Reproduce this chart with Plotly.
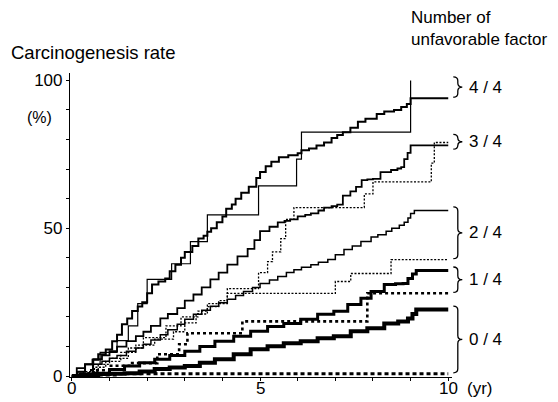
import plotly.graph_objects as go

# ---------------- data (years, carcinogenesis rate %) ----------------
t44_a = [0, 0.15, 0.35, 0.55, 0.7, 0.9, 1.07, 1.2, 1.33, 1.47, 1.6, 1.75, 1.87, 2.0, 2.13, 2.3, 2.48, 2.6,
         2.75, 2.9, 3.0, 3.2, 3.36, 3.5, 3.6, 3.7, 3.85, 4.0, 4.1, 4.25, 4.35, 4.5, 4.7, 4.9, 5.0, 5.15, 5.3,
         5.5, 5.75, 6.0, 6.1, 6.3, 6.5, 6.7, 6.9, 7.05, 7.2, 7.4, 7.6, 7.8, 8.1, 8.3, 8.56, 8.75, 8.9, 9.0, 10.0]
v44_a = [0, 1.5, 4, 5.5, 7.4, 9, 11.8, 14, 17.5, 19.5, 22, 23.5, 25, 28, 31, 32, 33, 35.5,
         37.7, 40, 42, 44, 46.5, 47.5, 48.8, 50, 52, 54, 56.6, 58, 60, 62, 64, 67, 69, 71, 72.5,
         74, 74.7, 75.4, 76.4, 77, 78, 79, 80.5, 81.5, 82.5, 84, 86, 87, 88.6, 89.5, 90, 91, 92, 94, 94]

t44_b = [0, 0.55, 0.75, 1.2, 1.5, 1.75, 2.0, 2.65, 3.15, 3.6, 4.96, 5.97, 6.1, 9.0]
v44_b = [0, 4, 8, 12, 17, 24.5, 32.7, 38, 45.5, 54.5, 64.3, 73.4, 82.5, 100]

t34_a = [0, 0.13, 0.35, 0.57, 0.8, 1.0, 1.2, 1.45, 1.7, 1.9, 2.1, 2.35, 2.55, 2.8, 3.0, 3.23, 3.45, 3.68,
         3.9, 4.13, 4.4, 4.67, 4.85, 5.0, 5.25, 5.47, 5.65, 5.8, 6.0, 6.2, 6.35, 6.55, 6.7, 6.9, 7.05, 7.2,
         7.4, 7.55, 7.7, 7.85, 8.0, 8.2, 8.48, 8.65, 8.75, 8.83, 8.92, 9.0, 10.0]
v34_a = [0, 2.7, 4, 5.7, 7, 8.4, 10, 11.8, 13.5, 15, 17, 19.5, 21, 23, 25.5, 27.6, 30, 32.7,
         35, 37.7, 40.5, 43, 46, 49, 50.5, 52, 52.5, 53, 54, 54.5, 55, 56, 57, 57.5, 58, 61,
         62.5, 64, 66.3, 66.5, 66.7, 69, 69.7, 70.2, 70.7, 73.4, 75.5, 78, 78]

t34_b = [0, 0.3, 0.7, 1.0, 1.5, 1.9, 2.5, 2.9, 3.35, 3.6, 4.13, 4.96, 5.2, 5.33, 5.55, 5.68, 5.9,
         7.77, 8.0, 9.55, 9.63, 10.0]
v34_b = [0, 1.5, 4, 6, 9.5, 13, 17, 20, 22, 24.5, 29.6, 35, 38.7, 42, 46.5, 53, 57,
         61.6, 65.7, 72, 79, 79]

t24_a = [0, 0.2, 0.57, 0.8, 1.0, 1.2, 1.45, 1.7, 1.9, 2.1, 2.35, 2.55, 2.8, 3.0, 3.23, 3.45, 3.68, 3.9,
         4.13, 4.35, 4.56, 4.8, 5.0, 5.25, 5.47, 5.7, 5.9, 6.1, 6.35, 6.55, 6.8, 7.0, 7.23, 7.45, 7.68,
         7.95, 8.13, 8.35, 8.5, 8.7, 8.83, 8.93, 9.0, 9.1, 10.0]
v24_a = [0, 1, 4, 5, 6, 7, 8.4, 9.5, 10.8, 12.2, 14, 15.7, 17.5, 19.2, 20.9, 22.3, 23.6, 24.8,
         26, 27.3, 28.6, 30, 31.3, 32.5, 33.7, 35, 36, 36.8, 37.7, 38.5, 39.4, 41, 42.8, 44, 45.5,
         47, 47.8, 49, 50, 51, 52, 53.5, 55, 56, 56]

t24_b = [0, 0.2, 0.6, 0.9, 1.3, 1.7, 2.2, 2.7, 3.0, 3.3, 3.6, 3.9, 4.13, 7.0, 7.41, 8.48, 10.0]
v24_b = [0, 1, 3, 5, 8, 10.5, 12.5, 15, 18, 21, 23.5, 25.5, 28, 32, 34.7, 39.4, 39.4]

t14_a = [0, 0.3, 0.6, 1.0, 1.4, 1.8, 2.2, 2.6, 3.0, 3.4, 3.8, 4.3, 4.75, 5.2, 5.63, 6.08, 6.53, 6.96,
         7.33, 7.68, 7.95, 8.3, 8.6, 8.8, 8.93, 9.05, 9.15, 10.0]
v14_a = [0, 0.5, 1, 2.2, 3.4, 4.5, 5.7, 7, 8.4, 10, 11.8, 13.5, 15.2, 16.8, 17.8, 19.2, 20.9, 21.9,
         24.2, 26.3, 28.6, 31, 31.2, 31.3, 33, 34.5, 35.7, 35.7]

t14_b = [0, 0.45, 1.0, 1.6, 2.27, 2.85, 3.07, 4.53, 7.85, 10.0]
v14_b = [0, 2, 3.5, 4.4, 7.4, 10.8, 14.5, 18.5, 28, 28]

t04_a = [0, 0.3, 0.7, 1.0, 1.4, 1.8, 2.2, 2.6, 3.0, 3.4, 3.8, 4.3, 4.75, 5.2, 5.63, 6.08, 6.53, 6.96,
         7.41, 7.85, 8.3, 8.67, 8.93, 9.05, 9.15, 10.0]
v04_a = [0, 0.3, 0.7, 0.8, 1.0, 1.6, 2.4, 2.9, 3.4, 4.5, 5.7, 7.4, 9.1, 10.1, 11.1, 11.8, 12.8, 13.5,
         15.2, 16.2, 17.8, 18.5, 19.5, 21, 22.5, 22.5]

t04_b = [0, 0.4, 1.2, 10.0]
v04_b = [0, 0.4, 0.8, 0.8]

group_labels = ["4 / 4", "3 / 4", "2 / 4", "1 / 4", "0 / 4"]
x_tick_vals = list(range(11))
x_label_vals = [0, 5, 10]
x_label_text = ["0", "5", "10"]
y_tick_vals = list(range(0, 101, 10))
y_tick_text = ["0", "", "", "", "", "50", "", "", "", "", "100"]

# ---------------- styling / layout ----------------
FONT = "Liberation Sans, Arial, Helvetica, sans-serif"
OFF = 8                      # page body margin of the html page
W, H = 558 - OFF, 402 - OFF
ML, MT = 70.1 - OFF, 73.1 - OFF   # plot area origin in figure pixels
PW, PH = 381.6, 304.3
XR = [-0.05, 10.1]
YR = [-0.3, 102.5]

def xp(px):            # screen px -> paper x
    return (px - OFF - ML) / PW

def ypx(py):           # screen py -> paper y
    return (MT + PH - (py - OFF)) / PH

def vpx(v):            # data value -> screen py
    return OFF + MT + PH - (v - YR[0]) / (YR[1] - YR[0]) * PH

fig = go.Figure()

series = [
    (t44_a, v44_a, 2.0, "solid"),
    (t44_b, v44_b, 1.2, "solid"),
    (t34_a, v34_a, 1.8, "solid"),
    (t34_b, v34_b, 1.3, "2px,1.6px"),
    (t24_a, v24_a, 1.5, "solid"),
    (t24_b, v24_b, 1.3, "2px,1.6px"),
    (t14_a, v14_a, 3.0, "solid"),
    (t14_b, v14_b, 2.6, "3px,3px"),
    (t04_a, v04_a, 4.0, "solid"),
    (t04_b, v04_b, 3.2, "4px,3px"),
]
for t, v, w, d in series:
    fig.add_trace(go.Scatter(x=t, y=v, mode="lines",
                             line=dict(shape="hv", width=w, dash=d, color="black"),
                             showlegend=False, hoverinfo="skip"))

# braces + group labels, derived from the curve end values
groups = [(v44_a, v44_b), (v34_a, v34_b), (v24_a, v24_b), (v14_a, v14_b), (v04_a, v04_b)]
shapes = []
annotations = []
for (a, b), lab in zip(groups, group_labels):
    ends = [a[-1], b[-1]]
    top, bot = max(ends) + 1.2, min(ends) + 0.3
    if top - bot < 5:
        c = (top + bot) / 2
        top, bot = c + 2.5, c - 2.5
    yT, yB = vpx(top), vpx(bot)
    yM = (yT + yB) / 2
    xL, xM, xT = 453, 457.5, 462
    pts = [
        ("M", [(xL, yT)]),
        ("Q", [(xM, yT), (xM, yT + 4)]),
        ("L", [(xM, yM - 4)]),
        ("Q", [(xM, yM), (xT, yM)]),
        ("Q", [(xM, yM), (xM, yM + 4)]),
        ("L", [(xM, yB - 4)]),
        ("Q", [(xM, yB), (xL, yB)]),
    ]
    path = " ".join(cmd + " " + " ".join(f"{xp(x):.5f},{ypx(y):.5f}" for x, y in p) for cmd, p in pts)
    shapes.append(dict(type="path", path=path, xref="paper", yref="paper",
                       line=dict(color="black", width=1.3)))
    annotations.append(dict(text=lab, x=xp(467), y=ypx(yM), xref="paper", yref="paper",
                            xanchor="left", yanchor="middle", showarrow=False,
                            font=dict(size=17, family=FONT, color="black")))

# x-axis labels (placed on the x axis scale)
for xv, xt in zip(x_label_vals, x_label_text):
    annotations.append(dict(text=xt, x=xv, y=ypx(389), xref="x", yref="paper",
                            xanchor="center", yanchor="middle", showarrow=False,
                            font=dict(size=17, family=FONT, color="black")))

annotations += [
    dict(text="Carcinogenesis rate", x=xp(9), y=ypx(53), xref="paper", yref="paper",
         xanchor="left", yanchor="middle", showarrow=False,
         font=dict(size=18.5, family=FONT, color="black")),
    dict(text="Number of<br>unfavorable factor", x=xp(409), y=ypx(6), xref="paper", yref="paper",
         xanchor="left", yanchor="top", align="left", showarrow=False,
         font=dict(size=17, family=FONT, color="black")),
    dict(text="(%)", x=xp(40), y=ypx(118), xref="paper", yref="paper",
         xanchor="center", yanchor="middle", showarrow=False,
         font=dict(size=16, family=FONT, color="black")),
    dict(text="(yr)", x=xp(465), y=ypx(389), xref="paper", yref="paper",
         xanchor="left", yanchor="middle", showarrow=False,
         font=dict(size=17, family=FONT, color="black")),
]

fig.update_layout(
    width=W, height=H, autosize=False,
    margin=dict(l=ML, r=W - ML - PW, t=MT, b=H - MT - PH, pad=0, autoexpand=False),
    paper_bgcolor="white", plot_bgcolor="white",
    font=dict(family=FONT, color="black", size=17),
    shapes=shapes, annotations=annotations,
    xaxis=dict(range=XR, showline=True, linecolor="black", linewidth=1.2, mirror=False,
               automargin=False, showticklabels=False,
               ticks="outside", ticklen=3, tickwidth=1, tickcolor="black",
               tickvals=x_tick_vals, showgrid=False, zeroline=False),
    yaxis=dict(range=YR, showline=True, linecolor="black", linewidth=1.2,
               automargin=False,
               ticks="outside", ticklen=3, tickwidth=1, tickcolor="black",
               tickvals=y_tick_vals, ticktext=y_tick_text, showgrid=False, zeroline=False,
               tickfont=dict(size=17, family=FONT, color="black")),
)

fig.write_html("out.html")
